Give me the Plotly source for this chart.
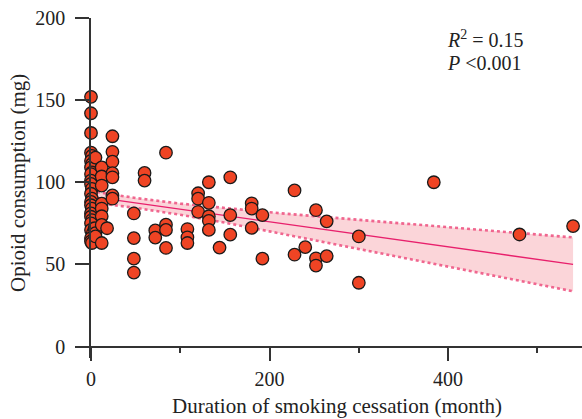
import plotly.graph_objects as go

# Scatter data: duration of smoking cessation (months) vs opioid consumption (mg)
months = [0, 0, 0, 0, 1, 0, 1, 0, 1, 0, 0, 0, 1, 0, 1, 0, 0, 1, 0, 0, 1, 0, 0, 2, 0, 0, 1,
          5, 4, 5, 5,
          12, 12, 12, 12, 12, 12, 12, 12,
          18,
          24, 24, 24, 24, 24, 24, 24,
          48, 48, 48, 48,
          60, 60,
          72, 72,
          84, 84, 84, 84,
          108, 108, 108,
          120, 120, 120,
          132, 132, 132, 132, 132,
          144,
          156, 156, 156,
          180, 180, 180,
          192, 192,
          228, 228,
          240,
          252, 252, 252,
          264, 264,
          300, 300,
          384, 480, 540]
opioid_mg = [152, 142, 130, 118, 116, 113, 111, 109, 106, 105, 101, 99, 96, 93, 90, 88, 86, 84, 81, 79, 77, 75, 71, 69, 66, 64, 63,
             115, 72, 69, 67,
             109, 103.5, 98, 87, 84, 79.3, 74, 63,
             72,
             128, 118.5, 112.5, 105.5, 103, 92, 90,
             81, 66, 53.5, 45,
             105.7, 101,
             70.7, 66.3,
             118, 74.2, 71, 60,
             71.5, 66.5, 63,
             93.3, 90, 82,
             100, 87.5, 79.3, 76.5, 71,
             60.2,
             103, 80, 68.1,
             87.2, 84, 72.2,
             80, 53.5,
             95, 55.9,
             60.5,
             83, 53.7, 49.3,
             76.2, 55,
             67, 38.8,
             100, 68.2, 73.3]

# Fitted regression line and 95% confidence band
fit_months = [0, 50, 100, 150, 200, 300, 400, 540]
fit_mg = [91.2, 87.4, 83.6, 79.8, 75.9, 68.3, 60.7, 50.0]
ci_upper = [94.6, 90.4, 87.0, 84.2, 81.7, 77.1, 72.6, 66.4]
ci_lower = [87.8, 84.4, 80.2, 75.4, 70.1, 59.5, 48.8, 33.6]

y_ticks = [0, 50, 100, 150, 200]
x_ticks = [0, 200, 400]

FONT = "Liberation Serif"
AX = "#333333"
BAND_LINE = "#f0668f"

fig = go.Figure()

# confidence band fill
fig.add_trace(go.Scatter(x=fit_months + fit_months[::-1], y=ci_upper + ci_lower[::-1],
                         fill="toself", fillcolor="#fbd5d9", line=dict(width=0),
                         mode="lines", hoverinfo="skip", showlegend=False))
fig.add_trace(go.Scatter(x=fit_months, y=ci_upper, mode="lines",
                         line=dict(color=BAND_LINE, width=2.6, dash="dot"), showlegend=False))
fig.add_trace(go.Scatter(x=fit_months, y=ci_lower, mode="lines",
                         line=dict(color=BAND_LINE, width=2.6, dash="dot"), showlegend=False))
fig.add_trace(go.Scatter(x=fit_months, y=fit_mg, mode="lines",
                         line=dict(color="#e8206c", width=1.3), showlegend=False))

fig.add_trace(go.Scatter(x=months, y=opioid_mg, mode="markers", cliponaxis=False,
                         marker=dict(size=12.5, color="#ef4424",
                                     line=dict(color="#1a1a1a", width=1.3)),
                         showlegend=False))

fig.update_layout(
    width=582, height=419,
    margin=dict(l=91, r=0, t=18, b=61),
    paper_bgcolor="white", plot_bgcolor="white",
    font=dict(family=FONT, size=20, color="#222222"),
    xaxis=dict(range=[0, 550], tickvals=x_ticks, showgrid=False, zeroline=False,
               showline=True, linecolor=AX, linewidth=1.5,
               ticks="outside", ticklen=14, tickwidth=1.5, tickcolor=AX,
               anchor="free", position=7 / 207, ticklabelstandoff=1,
               minor=dict(dtick=100, tick0=0, ticks="outside", ticklen=6,
                          tickwidth=1.5, tickcolor=AX, showgrid=False)),
    yaxis=dict(range=[-7, 200], tickvals=y_ticks, showgrid=False, zeroline=False,
               showline=True, linecolor=AX, linewidth=1.5,
               ticks="outside", ticklen=14, tickwidth=1.5, tickcolor=AX,
               ticklabelstandoff=6),
    annotations=[
        dict(text="Opioid consumption (mg)", xref="paper", yref="paper",
             x=-0.1487, y=0.515, textangle=-90, showarrow=False,
             xanchor="center", yanchor="middle", font=dict(size=21)),
        dict(text="Duration of smoking cessation (month)", xref="paper", yref="paper",
             x=0.5, y=-0.14, showarrow=False, xanchor="center", yanchor="middle",
             font=dict(size=21)),
        dict(text="<i>R</i><sup>2</sup> = 0.15", xref="x", yref="y",
             x=397, y=187.5, showarrow=False, xanchor="left", yanchor="middle",
             font=dict(size=20)),
        dict(text="<i>P</i> &lt;0.001", xref="x", yref="y",
             x=397, y=172.5, showarrow=False, xanchor="left", yanchor="middle",
             font=dict(size=20)),
    ],
)

fig.write_html("out.html", config={"displayModeBar": False},
               post_script="document.body.style.margin='0';")
